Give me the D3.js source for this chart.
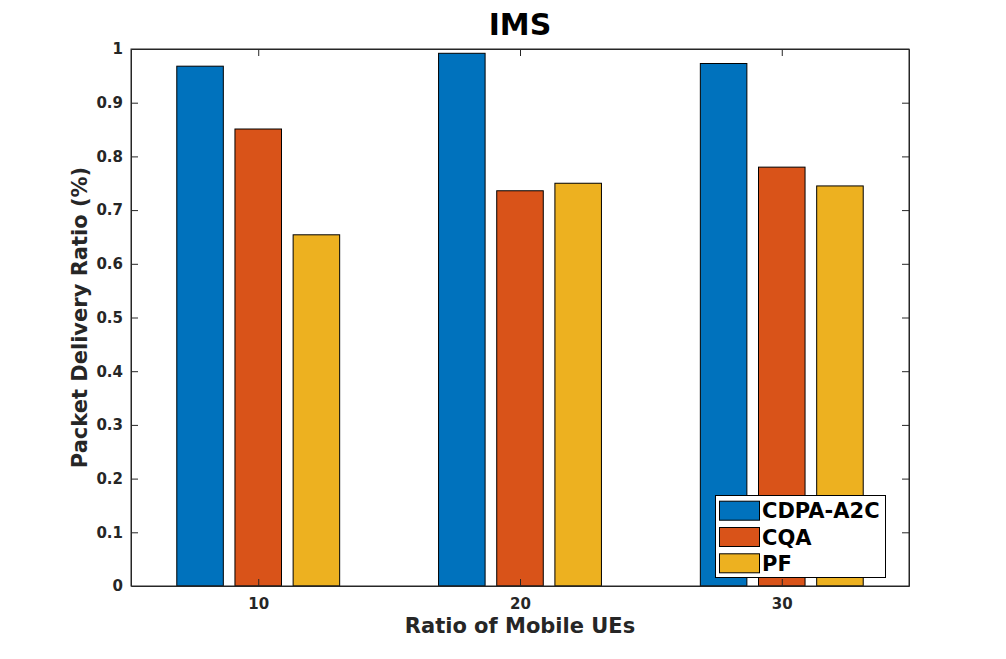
<!DOCTYPE html>
<html><head><meta charset="utf-8">
<script src="https://cdn.jsdelivr.net/npm/d3@7"></script>
<style>body{margin:0;background:#fff}svg{display:block}</style>
</head><body>
<script>
const categories = [10, 20, 30];
const seriesNames = ["CDPA-A2C", "CQA", "PF"];
const cdpa = [0.968, 0.992, 0.973];
const cqa = [0.851, 0.736, 0.780];
const pf = [0.654, 0.750, 0.745];
const yTicks = [0, 0.1, 0.2, 0.3, 0.4, 0.5, 0.6, 0.7, 0.8, 0.9, 1];
const colors = ["#0072BD", "#D95319", "#EDB120"];
const seriesValues = [cdpa, cqa, pf];

const W = 1006, H = 659;
const m = {left: 131, right: 909, top: 49, bottom: 586};
const svg = d3.select("body").append("svg").attr("width", W).attr("height", H);
const font = "'DejaVu Sans', sans-serif";
const axisColor = "#262626";

const x = d3.scaleLinear().domain([5.14, 34.86]).range([m.left, m.right]);
const y = d3.scaleLinear().domain([0, 1]).range([m.bottom, m.top]);

// MATLAB grouped bar geometry
const groupWidth = Math.min(0.8, 3 / (3 + 1.5)) * 10;
const barW = groupWidth / 3 * 0.8;
const offs = [-groupWidth / 3, 0, groupWidth / 3];

svg.append("rect").attr("x", m.left).attr("y", m.top)
  .attr("width", m.right - m.left).attr("height", m.bottom - m.top).attr("fill", "#fff");

seriesValues.forEach((vals, s) => {
  svg.append("g").selectAll("rect").data(vals).join("rect")
    .attr("x", (d, i) => x(categories[i] + offs[s] - barW / 2))
    .attr("width", (d, i) => x(categories[i] + offs[s] + barW / 2) - x(categories[i] + offs[s] - barW / 2))
    .attr("y", d => y(d))
    .attr("height", d => y(0) - y(d))
    .attr("fill", colors[s]).attr("stroke", "#000").attr("stroke-width", 1);
});

// axes
const tl = 7;
const gx = svg.append("g").attr("transform", `translate(0,${m.bottom})`)
  .call(d3.axisBottom(x).tickValues(categories).tickSizeInner(-tl).tickSizeOuter(0).tickPadding(12));
const gxt = svg.append("g").attr("transform", `translate(0,${m.top})`)
  .call(d3.axisTop(x).tickValues(categories).tickSizeInner(-tl).tickSizeOuter(0).tickFormat(""));
const gy = svg.append("g").attr("transform", `translate(${m.left},0)`)
  .call(d3.axisLeft(y).tickValues(yTicks).tickSizeInner(-tl).tickSizeOuter(0).tickPadding(8).tickFormat(d => d3.format("")(d)));
const gyr = svg.append("g").attr("transform", `translate(${m.right},0)`)
  .call(d3.axisRight(y).tickValues(yTicks).tickSizeInner(-tl).tickSizeOuter(0).tickFormat(""));
[gx, gxt, gy, gyr].forEach(g => {
  g.selectAll(".domain").attr("stroke", axisColor).attr("stroke-width", 1);
  g.selectAll(".tick line").attr("stroke", axisColor).attr("stroke-width", 1);
  g.selectAll("text").attr("fill", axisColor).attr("font-family", font)
    .attr("font-weight", "bold").attr("font-size", 15);
});
gy.selectAll(".tick:first-of-type line, .tick:last-of-type line").remove();
gyr.selectAll(".tick:first-of-type line, .tick:last-of-type line").remove();

// box outline
svg.append("rect").attr("x", m.left).attr("y", m.top)
  .attr("width", m.right - m.left).attr("height", m.bottom - m.top)
  .attr("fill", "none").attr("stroke", axisColor).attr("stroke-width", 1);

// titles
svg.append("text").attr("x", (m.left + m.right) / 2).attr("y", 35).attr("text-anchor", "middle")
  .attr("font-family", font).attr("font-weight", "bold").attr("font-size", 30).attr("fill", "#000").text("IMS");
svg.append("text").attr("x", (m.left + m.right) / 2).attr("y", 633).attr("text-anchor", "middle")
  .attr("font-family", font).attr("font-weight", "bold").attr("font-size", 21).attr("fill", axisColor).text("Ratio of Mobile UEs");
svg.append("text").attr("transform", `translate(87,${(m.top + m.bottom) / 2}) rotate(-90)`).attr("text-anchor", "middle")
  .attr("font-family", font).attr("font-weight", "bold").attr("font-size", 21).attr("fill", axisColor).text("Packet Delivery Ratio (%)");

// legend
const lg = svg.append("g");
lg.append("rect").attr("x", 715.5).attr("y", 495.5).attr("width", 170).attr("height", 82)
  .attr("fill", "#fff").attr("stroke", "#000").attr("stroke-width", 1);
const rowY = [510.7, 537, 563.3];
seriesNames.forEach((n, i) => {
  lg.append("rect").attr("x", 719.5).attr("y", rowY[i] - 9.5).attr("width", 40).attr("height", 19)
    .attr("fill", colors[i]).attr("stroke", "#000").attr("stroke-width", 1);
  lg.append("text").attr("x", 762).attr("y", rowY[i]).attr("dy", "0.36em")
    .attr("font-family", font).attr("font-weight", "bold").attr("font-size", 21).attr("fill", "#000").text(n);
});
</script>
</body></html>
